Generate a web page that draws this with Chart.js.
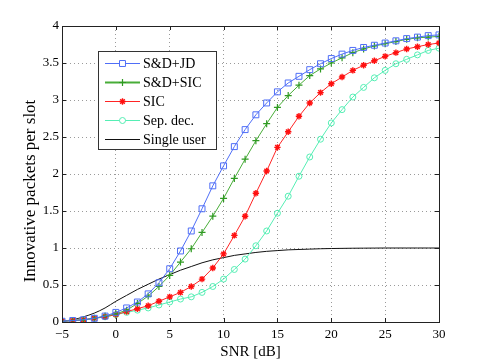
<!DOCTYPE html>
<html>
<head>
<meta charset="utf-8">
<script src="https://cdn.jsdelivr.net/npm/chart.js@4/dist/chart.umd.min.js"></script>
<style>
  body { margin: 0; background: #fff; }
  canvas { display: block; }
</style>
</head>
<body>
<canvas id="snrChart" width="485" height="363"></canvas>
<script>
'use strict';

// SNR axis, one point per dB
let snr = [];
for (let i = -5; i <= 30; i++) snr.push(i);

let xTicks = [-5, 0, 5, 10, 15, 20, 25, 30];
let yTicks = [0, 0.5, 1, 1.5, 2, 2.5, 3, 3.5, 4];

let seriesNames = ['S&D+JD', 'S&D+SIC', 'SIC', 'Sep. dec.', 'Single user'];
let xTitle = 'SNR [dB]';
let yTitle = 'Innovative packets per slot';

let sdJD = [0.01, 0.02, 0.03, 0.05, 0.08, 0.13, 0.19, 0.27, 0.38, 0.53,
  0.72, 0.96, 1.23, 1.53, 1.84, 2.11, 2.37, 2.60, 2.80, 2.96,
  3.11, 3.23, 3.32, 3.41, 3.49, 3.56, 3.62, 3.67, 3.71, 3.74,
  3.77, 3.80, 3.83, 3.85, 3.87, 3.88];

let sdSIC = [0.01, 0.02, 0.03, 0.05, 0.08, 0.11, 0.16, 0.25, 0.35, 0.48,
  0.63, 0.81, 0.99, 1.21, 1.43, 1.67, 1.94, 2.20, 2.45, 2.68,
  2.90, 3.06, 3.20, 3.33, 3.42, 3.50, 3.57, 3.64, 3.69, 3.73,
  3.76, 3.79, 3.82, 3.84, 3.85, 3.86];

let sic = [0.01, 0.02, 0.03, 0.05, 0.07, 0.10, 0.14, 0.18, 0.22, 0.28,
  0.34, 0.40, 0.48, 0.58, 0.73, 0.92, 1.17, 1.43, 1.74, 2.04,
  2.36, 2.57, 2.78, 2.96, 3.10, 3.22, 3.31, 3.40, 3.47, 3.53,
  3.59, 3.64, 3.69, 3.72, 3.75, 3.77];

let sepDec = [0.01, 0.02, 0.03, 0.05, 0.07, 0.10, 0.13, 0.16, 0.19, 0.23,
  0.27, 0.31, 0.34, 0.40, 0.48, 0.58, 0.71, 0.85, 1.03, 1.23,
  1.47, 1.70, 1.97, 2.23, 2.47, 2.69, 2.87, 3.04, 3.17, 3.30,
  3.40, 3.49, 3.55, 3.61, 3.67, 3.70];

let singleUser = [0.01, 0.03, 0.07, 0.12, 0.19, 0.28, 0.36, 0.44, 0.51, 0.58,
  0.64, 0.70, 0.75, 0.80, 0.84, 0.87, 0.90, 0.92, 0.94, 0.955,
  0.965, 0.975, 0.98, 0.985, 0.99, 0.993, 0.995, 0.997, 0.998, 0.999,
  1, 1, 1, 1, 1, 1];

function toPoints(values){
  return values.map(function(v, i){ return {x: snr[i], y: v}; });
}

const serif = '"Liberation Serif", "Times New Roman", serif';

let datasets = [
  {label: seriesNames[0], data: toPoints(sdJD), borderColor: '#4f6ef7', pointStyle: 'rect', pointRadius: 4.2, pointBorderColor: '#4f6ef7', pointBackgroundColor: 'rgba(0,0,0,0)', borderWidth: 1, pointBorderWidth: 1},
  {label: seriesNames[1], data: toPoints(sdSIC), borderColor: '#48ad38', pointStyle: 'cross', pointRadius: 3.5, pointBorderColor: '#2f9a22', pointBackgroundColor: 'rgba(0,0,0,0)', borderWidth: 1, pointBorderWidth: 1.2},
  {label: seriesNames[2], data: toPoints(sic), borderColor: '#ff2424', pointStyle: 'star', pointRadius: 3.2, pointBorderColor: '#ff1010', pointBackgroundColor: 'rgba(0,0,0,0)', borderWidth: 1, pointBorderWidth: 1.4},
  {label: seriesNames[3], data: toPoints(sepDec), borderColor: '#55eeb4', pointStyle: 'circle', pointRadius: 3, pointBorderColor: '#55eeb4', pointBackgroundColor: 'rgba(0,0,0,0)', borderWidth: 1, pointBorderWidth: 1},
  {label: seriesNames[4], data: toPoints(singleUser), borderColor: '#111', pointRadius: 0, borderWidth: 1, cubicInterpolationMode: 'monotone'}
];

// box, inward tick marks, y label and the legend, MATLAB style
const boxPlugin = {
  id: 'boxPlugin',
  afterDatasetsDraw(chart){
    let ctx = chart.ctx;
    let a = chart.chartArea;
    let xs = chart.scales.x;
    let ys = chart.scales.y;
    ctx.save();
    ctx.strokeStyle = '#222';
    ctx.lineWidth = 1;
    ctx.strokeRect(Math.round(a.left) + 0.5, Math.round(a.top) + 0.5, Math.round(a.right - a.left), Math.round(a.bottom - a.top));
    ctx.beginPath();
    xTicks.forEach(function(t){
      let px = Math.round(xs.getPixelForValue(t)) + 0.5;
      ctx.moveTo(px, a.bottom); ctx.lineTo(px, a.bottom - 4);
      ctx.moveTo(px, a.top); ctx.lineTo(px, a.top + 4);
    });
    yTicks.forEach(function(t){
      let py = Math.round(ys.getPixelForValue(t)) + 0.5;
      ctx.moveTo(a.left, py); ctx.lineTo(a.left + 4, py);
      ctx.moveTo(a.right, py); ctx.lineTo(a.right - 4, py);
    });
    ctx.stroke();

    // y axis label
    ctx.save();
    ctx.translate(31, 191);
    ctx.rotate(-Math.PI / 2);
    ctx.font = '17px ' + serif;
    ctx.fillStyle = '#000';
    ctx.textAlign = 'center';
    ctx.textBaseline = 'middle';
    ctx.fillText(yTitle, 0, 0);
    ctx.restore();

    // legend
    let lx = 98, ly = 51, lw = 118, lh = 98;
    ctx.fillStyle = '#fff';
    ctx.fillRect(lx, ly, lw, lh);
    ctx.strokeStyle = '#333';
    ctx.strokeRect(lx + 0.5, ly + 0.5, lw, lh);
    ctx.font = '14px ' + serif;
    ctx.textBaseline = 'middle';
    chart.data.datasets.forEach(function(ds, i){
      let y = 63.5 + i * 19;
      ctx.strokeStyle = ds.borderColor;
      ctx.lineWidth = i === 1 ? 2 : 1;
      ctx.beginPath();
      ctx.moveTo(105, y); ctx.lineTo(140, y);
      ctx.stroke();
      if (ds.pointRadius > 0) {
        ctx.strokeStyle = ds.pointBorderColor;
        ctx.fillStyle = '#fff';
        ctx.lineWidth = ds.pointBorderWidth;
        Chart.helpers.drawPoint(ctx, {pointStyle: ds.pointStyle, radius: ds.pointRadius, rotation: 0, borderWidth: ds.pointBorderWidth}, 122.5, y);
      }
      ctx.fillStyle = '#000';
      ctx.fillText(ds.label, 143, y + 1);
    });
    ctx.restore();
  }
};

new Chart(document.getElementById('snrChart').getContext('2d'), {
  type: 'line',
  data: {datasets: datasets},
  plugins: [boxPlugin],
  options: {
    responsive: false,
    animation: false,
    layout: {padding: {left: 0, right: 46, top: 26, bottom: 0}},
    plugins: {legend: {display: false}, tooltip: {enabled: false}},
    scales: {
      x: {
        type: 'linear', min: -5, max: 30,
        afterBuildTicks(scale){ scale.ticks = xTicks.map(function(v){ return {value: v}; }); },
        afterFit(scale){ scale.height = 41; },
        grid: {color: '#9a9a9a', drawTicks: false},
        border: {display: false, dash: [1, 3]},
        ticks: {color: '#000', padding: 5, maxRotation: 0, font: {family: serif, size: 13},
          callback: function(v){ return String(v).replace('-', '\u2212'); }},
        title: {display: true, text: xTitle, color: '#000', font: {family: serif, size: 15}, padding: {top: 0, bottom: 2}}
      },
      y: {
        type: 'linear', min: 0, max: 4,
        afterBuildTicks(scale){ scale.ticks = yTicks.map(function(v){ return {value: v}; }); },
        afterFit(scale){ scale.width = 62; },
        grid: {color: '#9a9a9a', drawTicks: false},
        border: {display: false, dash: [1, 3]},
        ticks: {color: '#000', padding: 3, font: {family: serif, size: 13},
          callback: function(v){ return String(v); }}
      }
    }
  }
});
</script>
</body>
</html>
